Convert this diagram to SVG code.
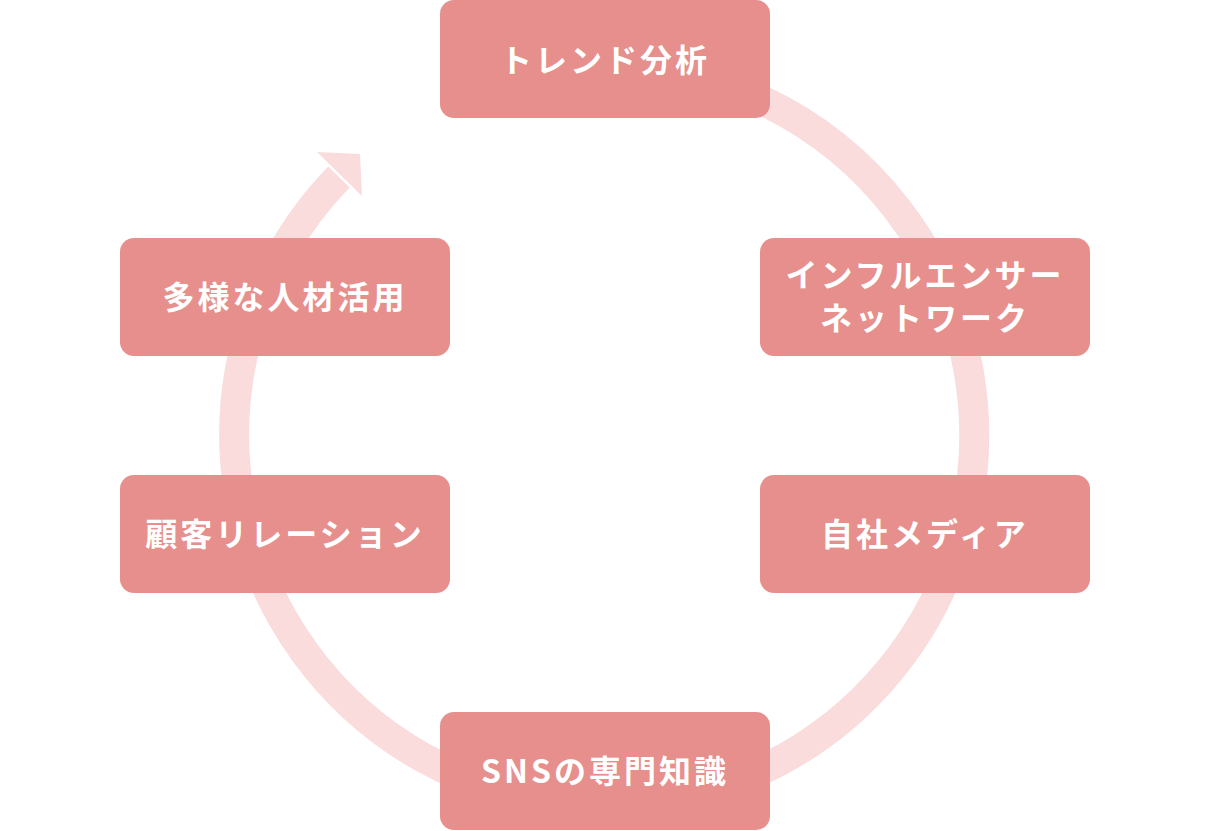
<svg xmlns="http://www.w3.org/2000/svg" width="1210" height="831" viewBox="0 0 1210 831">
<style>
.n rect{fill:#e68f8c}
.n text{fill:#fff;font-family:"Noto Sans CJK JP","Noto Sans",sans-serif;font-weight:bold;font-size:32px;text-anchor:middle;letter-spacing:3px}
</style>
<rect width="1210" height="831" fill="#fff"/>
<g id="connectors">
<path d="M605,65 A370,370 0 1 1 339,177" fill="none" stroke="#fadcdd" stroke-width="30"/>
<polygon points="317,152 360,154 362,196" fill="#fadcdd"/>
</g>
<g id="n1" class="n"><rect x="440" y="0" width="330" height="118" rx="14"/><text x="605" y="72">トレンド分析</text></g>
<g id="n2" class="n"><rect x="760" y="238" width="330" height="118" rx="14"/><text x="925" y="287">インフルエンサー</text><text x="925" y="330">ネットワーク</text></g>
<g id="n3" class="n"><rect x="760" y="475" width="330" height="118" rx="14"/><text x="925" y="546">自社メディア</text></g>
<g id="n4" class="n"><rect x="440" y="712" width="330" height="118" rx="14"/><text x="605" y="783">SNSの専門知識</text></g>
<g id="n5" class="n"><rect x="120" y="475" width="330" height="118" rx="14"/><text x="285" y="546">顧客リレーション</text></g>
<g id="n6" class="n"><rect x="120" y="238" width="330" height="118" rx="14"/><text x="285" y="309">多様な人材活用</text></g>
</svg>
